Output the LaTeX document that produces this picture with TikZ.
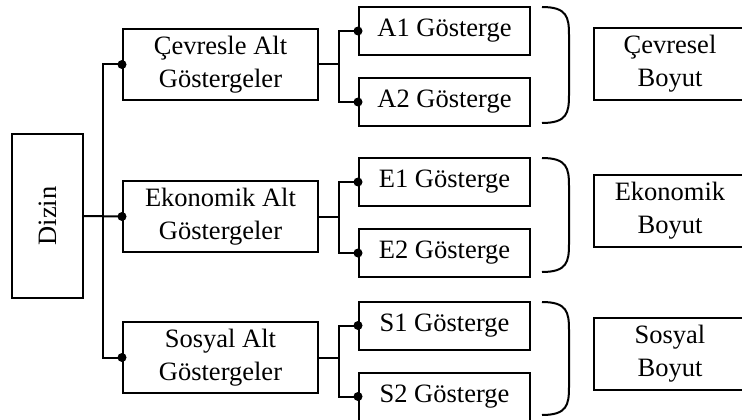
\documentclass[tikz,border=0pt]{standalone}
\usepackage{fontspec}
\setmainfont{Liberation Serif}
\usetikzlibrary{positioning}
\tikzset{
  box/.style = {rectangle, draw, line width=2pt, align=center, inner sep=0pt,
                font=\fontsize{26.5}{33}\selectfont},
  midbox/.style = {box, minimum width=195pt, minimum height=71pt},
  gosbox/.style = {box, minimum width=171pt, minimum height=48pt},
  boyutbox/.style = {box, minimum width=152pt, minimum height=72pt},
  link/.style = {line width=2pt},
  dot/.style = {circle, fill, inner sep=0pt, minimum size=9pt}
}

\begin{document}
\begin{tikzpicture}[x=1pt, y=-1pt]
   \useasboundingbox (0,0) rectangle (742,420);
   \clip (0,0) rectangle (742,420);
   % Place nodes
   \node [box, minimum width=71pt, minimum height=164pt] (dizin) at (47.5,216) {};
   \node [rotate=90, font=\fontsize{26.5}{33}\selectfont] (dizin-t) at (dizin.center) {Dizin};
   \node [midbox] (cev) at (220.5,64.5) {Çevresle Alt\\Göstergeler};
   \node [midbox] (eko) at (220.5,216.5) {Ekonomik Alt\\Göstergeler};
   \node [midbox] (sos) at (220.5,357.5) {Sosyal Alt\\Göstergeler};
   \node [gosbox] (a1) at (444.5,31) {A1 Gösterge};
   \node [gosbox, below = 21pt of a1] (a2) {A2 Gösterge};
   \node [gosbox] (e1) at (444.5,182) {E1 Gösterge};
   \node [gosbox, below = 21pt of e1] (e2) {E2 Gösterge};
   \node [gosbox] (s1) at (444.5,325.5) {S1 Gösterge};
   \node [gosbox, below = 21pt of s1] (s2) {S2 Gösterge};
   \node [boyutbox] (cb) at (670,64) {Çevresel\\Boyut};
   \node [boyutbox] (eb) at (670,211) {Ekonomik\\Boyut};
   \node [boyutbox] (sb) at (670,353.5) {Sosyal\\Boyut};
   % trunk
   \coordinate (trunk) at (103,0);
   \draw[link] (dizin.east) -- (eko.west);
   \draw[link] (cev.west) -| (trunk |- sos.west) -- (sos.west);
   \node [dot] at (cev.west) {};
   \node [dot] at (eko.west) {};
   \node [dot] at (sos.west) {};
   % branches
   \foreach \m/\p/\q in {cev/a1/a2, eko/e1/e2, sos/s1/s2}{
     \coordinate (\m-r) at ([xshift=20pt]\m.east);
     \draw[link] (\m.east) -- (\m-r);
     \draw[link] (\p.west) -| (\m-r) |- (\q.west);
     \node [dot] at (\p.west) {};
     \node [dot] at (\q.west) {};
   }
   % brackets
   \foreach \t/\b in {7/123, 158/272, 302/415}{
     \draw[link] (542,\t) .. controls (567,\t) and (569,\t+10) .. (569,\t+28)
        -- (569,\b-28) .. controls (569,\b-10) and (567,\b) .. (542,\b);
   }
\end{tikzpicture}
\end{document}
